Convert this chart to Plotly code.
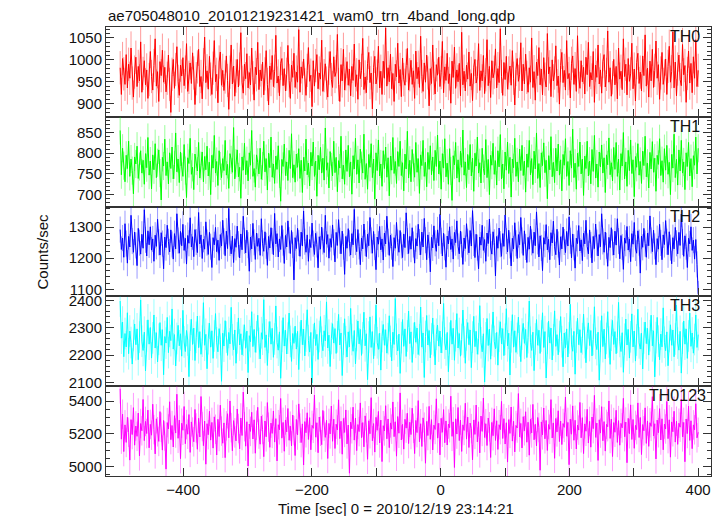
import numpy as np
import plotly.graph_objects as go
from plotly.subplots import make_subplots

# time grid (bin start and width, seconds relative to 2010/12/19 23:14:21)
t_start = -498.0
t_step = 1.875

th0 = [982, 921, 1003, 968, 944, 1012, 936, 990, 958, 1027, 947, 915, 972, 1006, 939, 985, 952, 1041, 926, 969, 998, 943, 977, 912,
       955, 1019, 962, 931, 987, 1048, 940, 973, 905, 996, 964, 1022, 949, 983, 927, 958, 1011, 944, 880, 967, 1001, 935, 978, 1030,
       951, 919, 988, 963, 1005, 941, 972, 1037, 928, 960, 993, 946, 1016, 970, 898, 957, 984, 1024, 939, 962, 911, 989, 1052, 948,
       975, 933, 1008, 956, 921, 981, 1044, 950, 967, 902, 995, 1018, 942, 976, 930, 961, 1009, 953, 887, 972, 1034, 945, 986, 917,
       963, 1001, 938, 979, 1062, 949, 924, 990, 957, 1014, 936, 971, 943, 1027, 959, 908, 983, 966, 1040, 932, 977, 952, 995, 920,
       968, 1021, 944, 897, 986, 955, 1010, 939, 974, 1056, 947, 963, 918, 992, 1003, 941, 980, 929, 967, 1033, 953, 912, 988, 960,
       1015, 937, 972, 949, 1069, 926, 984, 958, 1002, 943, 919, 976, 1028, 951, 965, 893, 998, 940, 987, 1012, 934, 970, 956, 1045,
       928, 964, 991, 947, 915, 981, 1019, 955, 937, 1007, 962, 973, 1058, 944, 905, 989, 952, 1024, 931, 968, 996, 942, 979, 918,
       985, 953, 1036, 939, 966, 910, 1000, 957, 976, 1049, 932, 961, 925, 992, 1017, 948, 970, 888, 983, 1008, 945, 963, 1031, 936,
       974, 921, 997, 958, 1073, 940, 982, 950, 1013, 934, 969, 905, 990, 961, 1038, 947, 978, 916, 1004, 955, 942, 987, 1026, 931,
       966, 999, 944, 975, 912, 1020, 957, 983, 937, 1054, 962, 928, 993, 949, 1011, 970, 895, 980, 946, 1034, 958, 922, 989, 965,
       1006, 939, 971, 1042, 925, 984, 953, 1015, 946, 968, 901, 997, 960, 1029, 935, 977, 950, 992, 918, 1063, 943, 974, 929, 988,
       956, 1018, 940, 969, 907, 983, 1001, 947, 962, 1037, 930, 975, 952, 1010, 923, 966, 1046, 941, 985, 914, 998, 959, 972, 1025,
       936, 980, 948, 1071, 962, 919, 994, 955, 1008, 933, 970, 986, 942, 1021, 958, 897, 978, 1003, 951, 967, 1039, 929, 990, 945,
       1013, 960, 926, 982, 949, 1050, 937, 973, 908, 995, 964, 1028, 943, 979, 920, 1005, 956, 938, 1060, 968, 984, 916, 1000, 952,
       970, 1032, 941, 963, 899, 987, 1017, 948, 976, 931, 1044, 957, 969, 913, 992, 1009, 944, 980, 928, 1055, 961, 935, 998, 950,
       983, 922, 1006, 966, 1040, 939, 971, 954, 1019, 903, 988, 960, 1034, 945, 977, 924, 996, 1012, 938, 967, 1066, 949, 982, 917,
       959, 1001, 943, 985, 911, 1027, 956, 974, 932, 1048, 962, 990, 920, 1003, 951, 968, 1038, 934, 979, 906, 994, 1015, 946, 972,
       929, 1009, 964, 1057, 940, 981, 915, 997, 952, 1024, 937, 976, 1043, 958, 989, 910, 970, 1017, 944, 963, 1002, 921, 985, 1031,
       949, 973, 1064, 936, 995, 918, 979, 1011, 955, 941, 1035, 966, 987, 903, 969, 1020, 947, 992, 925, 1007, 958, 1046, 939, 976]

th1 = [855, 748, 812, 770, 731, 795, 763, 829, 744, 786, 758, 702, 791, 774, 817, 739, 768, 806, 752, 783, 725, 799, 765, 838,
       747, 781, 714, 796, 760, 823, 741, 777, 808, 752, 687, 790, 769, 834, 746, 779, 726, 801, 763, 815, 738, 772, 849, 755,
       786, 729, 803, 767, 744, 821, 758, 693, 789, 775, 836, 749, 766, 712, 798, 781, 757, 826, 740, 770, 803, 731, 792, 760,
       817, 745, 778, 700, 795, 764, 843, 752, 780, 722, 806, 769, 741, 787, 758, 831, 747, 773, 715, 799, 784, 754, 862, 738,
       776, 808, 743, 766, 691, 791, 759, 824, 748, 782, 733, 801, 771, 855, 744, 763, 718, 796, 778, 750, 812, 737, 769, 829,
       755, 787, 711, 800, 765, 839, 742, 774, 727, 793, 761, 818, 750, 684, 785, 768, 822, 746, 779, 734, 807, 763, 847, 741,
       772, 730, 798, 766, 811, 739, 783, 705, 790, 757, 834, 748, 776, 721, 802, 769, 827, 744, 781, 696, 795, 760, 814, 752,
       788, 735, 861, 759, 777, 716, 804, 767, 745, 829, 753, 790, 707, 782, 764, 841, 738, 771, 725, 808, 756, 819, 743, 779,
       701, 794, 762, 836, 749, 784, 728, 810, 770, 752, 846, 737, 775, 713, 797, 766, 823, 741, 786, 689, 801, 758, 832, 745,
       774, 720, 806, 763, 815, 742, 789, 697, 793, 759, 838, 751, 780, 727, 804, 768, 829, 746, 777, 709, 798, 762, 853, 740,
       783, 731, 809, 765, 742, 826, 754, 787, 703, 796, 770, 831, 744, 778, 719, 802, 761, 818, 748, 791, 734, 807, 768, 844,
       750, 781, 713, 799, 764, 835, 743, 776, 725, 811, 757, 686, 794, 772, 826, 740, 784, 730, 805, 766, 856, 747, 779, 717,
       797, 760, 821, 745, 788, 708, 800, 769, 839, 752, 777, 728, 812, 763, 748, 833, 741, 785, 700, 795, 771, 824, 749, 782,
       723, 806, 767, 845, 738, 774, 714, 803, 759, 827, 751, 790, 694, 786, 765, 836, 744, 779, 731, 810, 758, 819, 746, 781,
       706, 798, 766, 831, 748, 787, 724, 805, 762, 849, 739, 775, 717, 801, 770, 825, 753, 783, 690, 794, 760, 840, 743, 778,
       729, 812, 757, 822, 747, 784, 709, 797, 771, 835, 744, 780, 722, 806, 764, 858, 741, 776, 713, 800, 768, 827, 750, 786,
       698, 793, 763, 829, 745, 781, 726, 809, 756, 843, 740, 774, 718, 803, 767, 820, 752, 789, 705, 796, 772, 837, 748, 777,
       733, 814, 761, 826, 744, 786, 711, 799, 769, 850, 738, 779, 720, 807, 758, 832, 751, 784, 695, 792, 766, 823, 747, 780,
       727, 805, 770, 841, 743, 776, 716, 802, 762, 828, 754, 788, 708, 795, 773, 835, 746, 782, 730, 811, 759, 819, 749, 778,
       700, 797, 764, 846, 741, 785, 723, 808, 757, 831, 752, 779, 712, 801, 768, 826, 745, 787, 719, 794, 771, 839, 750, 812]

th2 = [1292, 1228, 1265, 1203, 1311, 1247, 1184, 1270, 1236, 1338, 1255, 1219, 1284, 1241, 1176, 1296, 1250, 1213, 1277, 1232, 1356, 1259, 1207, 1288,
       1243, 1301, 1226, 1262, 1190, 1274, 1238, 1325, 1251, 1210, 1282, 1247, 1166, 1268, 1234, 1306, 1253, 1220, 1291, 1244, 1197, 1279, 1230, 1343,
       1257, 1216, 1286, 1240, 1309, 1225, 1264, 1181, 1273, 1248, 1330, 1236, 1269, 1205, 1292, 1252, 1218, 1347, 1246, 1275, 1199, 1261, 1229, 1317,
       1250, 1212, 1283, 1237, 1170, 1266, 1243, 1299, 1221, 1258, 1193, 1276, 1239, 1322, 1254, 1208, 1287, 1231, 1360, 1249, 1214, 1271, 1186, 1263,
       1235, 1303, 1245, 1201, 1278, 1227, 1335, 1256, 1217, 1290, 1242, 1158, 1268, 1230, 1312, 1251, 1196, 1281, 1238, 1264, 1209, 1327, 1248, 1222,
       1285, 1240, 1177, 1270, 1233, 1298, 1255, 1211, 1344, 1246, 1279, 1204, 1262, 1228, 1305, 1250, 1183, 1273, 1236, 1320, 1258, 1215, 1289, 1242,
       1130, 1266, 1231, 1296, 1249, 1206, 1284, 1239, 1352, 1253, 1219, 1275, 1190, 1260, 1234, 1313, 1247, 1212, 1280, 1244, 1169, 1269, 1229, 1300,
       1254, 1218, 1338, 1245, 1276, 1200, 1263, 1235, 1307, 1251, 1188, 1283, 1241, 1324, 1256, 1214, 1287, 1237, 1148, 1270, 1232, 1295, 1248, 1210,
       1279, 1243, 1357, 1252, 1221, 1292, 1238, 1179, 1265, 1230, 1310, 1249, 1205, 1277, 1240, 1331, 1257, 1216, 1286, 1236, 1163, 1268, 1245, 1302,
       1227, 1262, 1194, 1281, 1246, 1335, 1253, 1209, 1274, 1237, 1173, 1266, 1232, 1315, 1250, 1219, 1289, 1241, 1202, 1278, 1234, 1346, 1255, 1215,
       1270, 1229, 1298, 1244, 1184, 1263, 1239, 1309, 1252, 1211, 1284, 1236, 1328, 1258, 1195, 1275, 1242, 1156, 1267, 1233, 1304, 1248, 1222, 1291,
       1240, 1341, 1256, 1207, 1280, 1235, 1171, 1271, 1246, 1301, 1228, 1262, 1197, 1283, 1250, 1320, 1238, 1214, 1287, 1244, 1180, 1265, 1231, 1311,
       1253, 1217, 1289, 1239, 1353, 1249, 1202, 1277, 1234, 1166, 1268, 1242, 1306, 1225, 1260, 1190, 1281, 1247, 1326, 1236, 1213, 1285, 1251, 1143,
       1270, 1232, 1297, 1245, 1206, 1279, 1238, 1339, 1255, 1220, 1290, 1241, 1175, 1264, 1230, 1314, 1248, 1199, 1276, 1243, 1331, 1257, 1209, 1288,
       1236, 1186, 1267, 1229, 1303, 1251, 1216, 1284, 1240, 1349, 1254, 1204, 1272, 1233, 1160, 1266, 1245, 1308, 1227, 1261, 1195, 1282, 1249, 1319,
       1237, 1211, 1293, 1244, 1178, 1269, 1230, 1300, 1252, 1218, 1286, 1239, 1333, 1256, 1201, 1278, 1235, 1168, 1264, 1247, 1305, 1223, 1259, 1192,
       1280, 1246, 1322, 1238, 1214, 1291, 1243, 1185, 1270, 1231, 1310, 1250, 1207, 1276, 1237, 1343, 1254, 1219, 1284, 1240, 1174, 1267, 1234, 1298,
       1251, 1210, 1287, 1242, 1327, 1255, 1198, 1273, 1236, 1164, 1265, 1248, 1302, 1226, 1262, 1189, 1279, 1245, 1315, 1233, 1216, 1288, 1250, 1152,
       1271, 1235, 1296, 1247, 1203, 1281, 1240, 1336, 1257, 1221, 1290, 1238, 1179, 1263, 1229, 1309, 1249, 1195, 1275, 1244, 1321, 1253, 1211, 1285,
       1234, 1182, 1266, 1230, 1299, 1248, 1214, 1283, 1241, 1342, 1252, 1206, 1272, 1237, 1170, 1264, 1246, 1301, 1225, 1258, 1197, 1260, 1180, 1085]

th3 = [2398, 2262, 2321, 2194, 2279, 2230, 2355, 2205, 2288, 2246, 2167, 2272, 2314, 2238, 2296, 2183, 2266, 2402, 2251, 2217, 2284, 2142, 2270, 2329,
       2240, 2301, 2189, 2263, 2347, 2226, 2282, 2175, 2258, 2319, 2236, 2293, 2128, 2268, 2244, 2338, 2209, 2287, 2253, 2369, 2222, 2275, 2160, 2261,
       2309, 2234, 2278, 2196, 2364, 2248, 2213, 2290, 2255, 2121, 2273, 2331, 2239, 2299, 2180, 2265, 2343, 2227, 2286, 2203, 2251, 2392, 2236, 2276,
       2150, 2260, 2317, 2229, 2289, 2188, 2270, 2352, 2245, 2212, 2297, 2257, 2104, 2280, 2233, 2326, 2266, 2199, 2283, 2241, 2375, 2256, 2219, 2292,
       2170, 2263, 2336, 2237, 2278, 2201, 2254, 2311, 2225, 2288, 2136, 2271, 2249, 2359, 2231, 2294, 2210, 2267, 2346, 2243, 2186, 2282, 2258, 2403,
       2228, 2274, 2162, 2265, 2323, 2240, 2298, 2192, 2259, 2380, 2246, 2218, 2285, 2115, 2269, 2337, 2233, 2291, 2204, 2262, 2354, 2250, 2177, 2279,
       2243, 2306, 2222, 2287, 2147, 2264, 2328, 2238, 2295, 2197, 2270, 2366, 2253, 2211, 2283, 2098, 2256, 2318, 2235, 2276, 2184, 2268, 2341, 2247,
       2216, 2289, 2252, 2395, 2226, 2273, 2158, 2261, 2315, 2244, 2297, 2206, 2267, 2349, 2237, 2281, 2125, 2259, 2333, 2249, 2193, 2285, 2230, 2371,
       2257, 2214, 2290, 2168, 2272, 2325, 2241, 2294, 2199, 2263, 2357, 2234, 2278, 2110, 2266, 2340, 2228, 2286, 2187, 2255, 2384, 2245, 2221, 2280,
       2145, 2268, 2312, 2236, 2293, 2207, 2260, 2344, 2250, 2179, 2284, 2239, 2407, 2258, 2215, 2277, 2133, 2264, 2330, 2232, 2296, 2195, 2270, 2361,
       2242, 2285, 2173, 2261, 2320, 2247, 2299, 2202, 2256, 2376, 2229, 2281, 2118, 2268, 2345, 2237, 2290, 2190, 2259, 2336, 2253, 2164, 2276, 2310,
       2233, 2288, 2208, 2265, 2389, 2244, 2219, 2283, 2139, 2262, 2327, 2240, 2298, 2181, 2271, 2352, 2226, 2279, 2196, 2257, 2365, 2248, 2170, 2274,
       2319, 2238, 2292, 2154, 2266, 2342, 2231, 2287, 2203, 2260, 2381, 2245, 2212, 2278, 2101, 2263, 2334, 2235, 2295, 2185, 2254, 2358, 2250, 2223,
       2283, 2163, 2269, 2322, 2241, 2297, 2198, 2258, 2370, 2234, 2280, 2127, 2267, 2348, 2229, 2289, 2210, 2261, 2339, 2252, 2176, 2277, 2316, 2243,
       2294, 2191, 2264, 2398, 2247, 2217, 2284, 2143, 2259, 2330, 2236, 2291, 2206, 2270, 2355, 2228, 2286, 2116, 2262, 2324, 2244, 2299, 2182, 2256,
       2362, 2232, 2275, 2201, 2268, 2341, 2249, 2157, 2281, 2227, 2296, 2193, 2263, 2386, 2240, 2214, 2287, 2130, 2266, 2335, 2238, 2293, 2209, 2260,
       2350, 2246, 2172, 2279, 2318, 2235, 2290, 2197, 2257, 2377, 2243, 2220, 2284, 2108, 2269, 2344, 2231, 2295, 2186, 2261, 2359, 2248, 2166, 2273,
       2327, 2239, 2286, 2205, 2265, 2393, 2250, 2213, 2282, 2137, 2258, 2332, 2237, 2294, 2189, 2267, 2351, 2230, 2288, 2178, 2255, 2368, 2245, 2222,
       2280, 2149, 2263, 2321, 2242, 2298, 2200, 2271, 2346, 2234, 2289, 2120, 2264, 2338, 2251, 2183, 2277, 2230, 2373, 2247, 2216, 2285, 2161, 2268,
       2311, 2236, 2292, 2194, 2259, 2383, 2244, 2218, 2287, 2134, 2262, 2325, 2240, 2296, 2188, 2270, 2354, 2232, 2281, 2207, 2257, 2347, 2228, 2275]

th0123 = [5475, 5168, 5320, 5092, 5255, 5148, 5301, 5210, 5040, 5287, 5196, 5360, 5131, 5248, 5185, 5327, 5066, 5263, 5219, 5410, 5159, 5276, 5202, 5345,
          5115, 5258, 5192, 5381, 5226, 5078, 5292, 5213, 5154, 5336, 5240, 5101, 5282, 5187, 4985, 5269, 5230, 5396, 5165, 5251, 5120, 5311, 5205, 5442,
          5173, 5284, 5049, 5265, 5222, 5367, 5140, 5257, 5198, 5318, 5087, 5273, 5211, 5152, 5349, 5236, 5106, 5295, 5181, 5428, 5245, 5128, 5278, 5015,
          5262, 5195, 5338, 5162, 5270, 5113, 5304, 5228, 5071, 5289, 5184, 5375, 5217, 5143, 5267, 5055, 5249, 5323, 5176, 5401, 5238, 5097, 5281, 5206,
          5157, 5352, 5233, 5109, 5297, 5190, 5455, 5244, 5125, 5274, 5004, 5260, 5215, 5332, 5169, 5286, 5082, 5253, 5362, 5199, 5137, 5308, 5227, 5061,
          5279, 5182, 5391, 5241, 5118, 5266, 5203, 5340, 5150, 5293, 5035, 5256, 5225, 5416, 5174, 5270, 5094, 5285, 5212, 5355, 5161, 5247, 5127, 5315,
          5220, 5068, 5288, 5193, 5383, 5235, 5147, 5261, 5010, 5275, 5207, 5329, 5166, 5299, 5103, 5252, 5234, 5437, 5180, 5268, 5085, 5303, 5216, 5134,
          5343, 5248, 5179, 5283, 5050, 5264, 5200, 5370, 5155, 5290, 5111, 5259, 5224, 5408, 5171, 5277, 5076, 5294, 5209, 5346, 5139, 5254, 4960, 5272,
          5231, 5363, 5162, 5296, 5098, 5257, 5214, 5389, 5177, 5269, 5121, 5310, 5237, 5045, 5280, 5201, 5421, 5158, 5263, 5089, 5301, 5222, 5337, 5145,
          5284, 5031, 5250, 5218, 5372, 5170, 5291, 5116, 5267, 5229, 5395, 5183, 5274, 5064, 5306, 5204, 5450, 5163, 5258, 5107, 5289, 5235, 5326, 5141,
          5271, 5196, 5357, 5234, 5080, 5282, 5208, 5403, 5152, 5262, 5123, 5298, 5241, 5021, 5276, 5190, 5368, 5167, 5287, 5102, 5253, 5227, 5414, 5174,
          5265, 5072, 5295, 5210, 5348, 5146, 5279, 5132, 5260, 5238, 5430, 5185, 5273, 4995, 5292, 5199, 5361, 5159, 5284, 5093, 5255, 5221, 5387, 5168,
          5302, 5117, 5266, 5232, 5042, 5285, 5197, 5376, 5151, 5274, 5084, 5309, 5215, 5419, 5178, 5262, 5129, 5297, 5243, 5056, 5270, 5189, 5353, 5160,
          5280, 5105, 5256, 5226, 5398, 5172, 5293, 5138, 5268, 5028, 5287, 5203, 5364, 5156, 5277, 5090, 5251, 5236, 5446, 5181, 5264, 5114, 5305, 5219,
          5335, 5149, 5271, 5070, 5289, 5206, 5380, 5164, 5259, 5126, 5300, 5239, 4978, 5273, 5194, 5358, 5170, 5282, 5099, 5257, 5228, 5409, 5175, 5267,
          5051, 5294, 5212, 5341, 5153, 5278, 5135, 5263, 5240, 5425, 5186, 5270, 5012, 5290, 5198, 5371, 5161, 5283, 5108, 5254, 5223, 5392, 5176, 5299,
          5080, 5261, 5216, 5350, 5144, 5276, 5119, 5303, 5232, 5435, 5179, 5266, 5038, 5286, 5205, 5366, 5158, 5275, 5095, 5258, 5244, 5401, 5172, 5290,
          5062, 5269, 5210, 5344, 5148, 5281, 5131, 5264, 5237, 5417, 5183, 5272, 5024, 5295, 5201, 5377, 5166, 5288, 5112, 5252, 5226, 5389, 5178, 5300,
          5074, 5257, 5219, 5359, 5142, 5279, 5124, 5268, 5246, 5427, 5187, 5262, 5047, 5284, 5207, 5354, 5163, 5292, 5103, 5260, 5230, 5398, 5171, 5286,
          5058, 5273, 5213, 5338, 5150, 5277, 5136, 5265, 5241, 5411, 5182, 5270, 5030, 5291, 5202, 5369, 5160, 5280, 5110, 5255, 5225, 5384, 5176, 5210]

band_names = ["TH0", "TH1", "TH2", "TH3", "TH0123"]
band_values = [th0, th1, th2, th3, th0123]
band_errors = [38, 34, 42, 58, 90]
band_colors = ["#ff0000", "#00ff00", "#0000ff", "#00ffff", "#ff00ff"]
band_err_colors = ["rgba(255,0,0,0.4)", "rgba(0,255,0,0.4)", "rgba(0,0,255,0.4)",
                   "rgba(0,255,255,0.4)", "rgba(255,0,255,0.4)"]
y_ranges = [[870, 1075], [671, 888], [1077, 1366], [2086, 2415], [4943, 5491]]
y_ticks = [[900, 950, 1000, 1050], [700, 750, 800, 850], [1100, 1200, 1300],
           [2100, 2200, 2300, 2400], [5000, 5200, 5400]]
y_minor = [10, 10, 20, 20, 50]
label_xshift = [-9, -9, -9, -9, -3]

x_tickvals = [-400, -300, -200, -100, 0, 100, 200, 300, 400]
x_ticktext = ["\u2212400", "", "\u2212200", "", "0", "", "200", "", "400"]

FONT = "Liberation Sans, Arial, Helvetica, sans-serif"
AXC = "#333333"

fig = make_subplots(rows=5, cols=1, shared_xaxes=True, vertical_spacing=0)

for i in range(5):
    vals = band_values[i]
    time = t_start + t_step * np.arange(len(vals))
    fig.add_trace(go.Scatter(
        x=time, y=vals, mode="lines",
        line=dict(color=band_colors[i], width=1),
        error_y=dict(type="constant", value=band_errors[i], color=band_err_colors[i],
                     thickness=1, width=0),
        showlegend=False, hoverinfo="skip"),
        row=i + 1, col=1)
    fig.update_yaxes(range=y_ranges[i], tickvals=y_ticks[i], automargin=False,
                     ticks="inside", ticklen=8, tickwidth=1, tickcolor=AXC,
                     minor=dict(dtick=y_minor[i], ticks="inside", ticklen=4, tickcolor=AXC,
                                showgrid=False),
                     showline=True, linecolor=AXC, linewidth=1, mirror="allticks",
                     showgrid=False, zeroline=False,
                     tickfont=dict(family=FONT, size=15, color="#111"),
                     row=i + 1, col=1)
    fig.update_xaxes(range=[-520, 420], tickvals=x_tickvals, ticktext=x_ticktext, automargin=False,
                     ticks="inside", ticklen=8, tickwidth=1, tickcolor=AXC,
                     showline=True, linecolor=AXC, linewidth=1, mirror="allticks",
                     showgrid=False, zeroline=False,
                     showticklabels=(i == 4),
                     tickfont=dict(family=FONT, size=15, color="#111"),
                     row=i + 1, col=1)

# the page body adds an 8px offset, so the figure is sized/positioned to compensate
fig.update_layout(
    width=715, height=508,
    margin=dict(l=98, r=12, t=19, b=40, autoexpand=False),
    paper_bgcolor="white", plot_bgcolor="white",
    font=dict(family=FONT, size=15, color="#111"),
)

annotations = [
    dict(text="ae705048010_20101219231421_wam0_trn_4band_long.qdp", xref="paper", yref="paper",
         x=0.0, y=1.0, xanchor="left", yanchor="middle", xshift=0, yshift=12, showarrow=False,
         font=dict(family=FONT, size=15, color="#111")),
    dict(text="Counts/sec", xref="paper", yref="paper", x=0, y=0.5, xshift=-64,
         xanchor="center", yanchor="middle", textangle=-90, showarrow=False,
         font=dict(family=FONT, size=15, color="#111")),
    dict(text="Time [sec] 0 = 2010/12/19 23:14:21", xref="paper", yref="paper",
         x=0.48, y=0, yshift=-32, xanchor="center", yanchor="middle", showarrow=False,
         font=dict(family=FONT, size=15, color="#111")),
]
for i in range(5):
    yax = "yaxis" if i == 0 else "yaxis%d" % (i + 1)
    dom = fig.layout[yax].domain
    annotations.append(dict(text=band_names[i], xref="paper", yref="paper",
                            x=1.0, y=dom[1], xshift=label_xshift[i], yshift=1,
                            xanchor="right", yanchor="top",
                            showarrow=False, font=dict(family=FONT, size=16, color="#111")))
fig.update_layout(annotations=annotations)

fig.write_html("out.html")
